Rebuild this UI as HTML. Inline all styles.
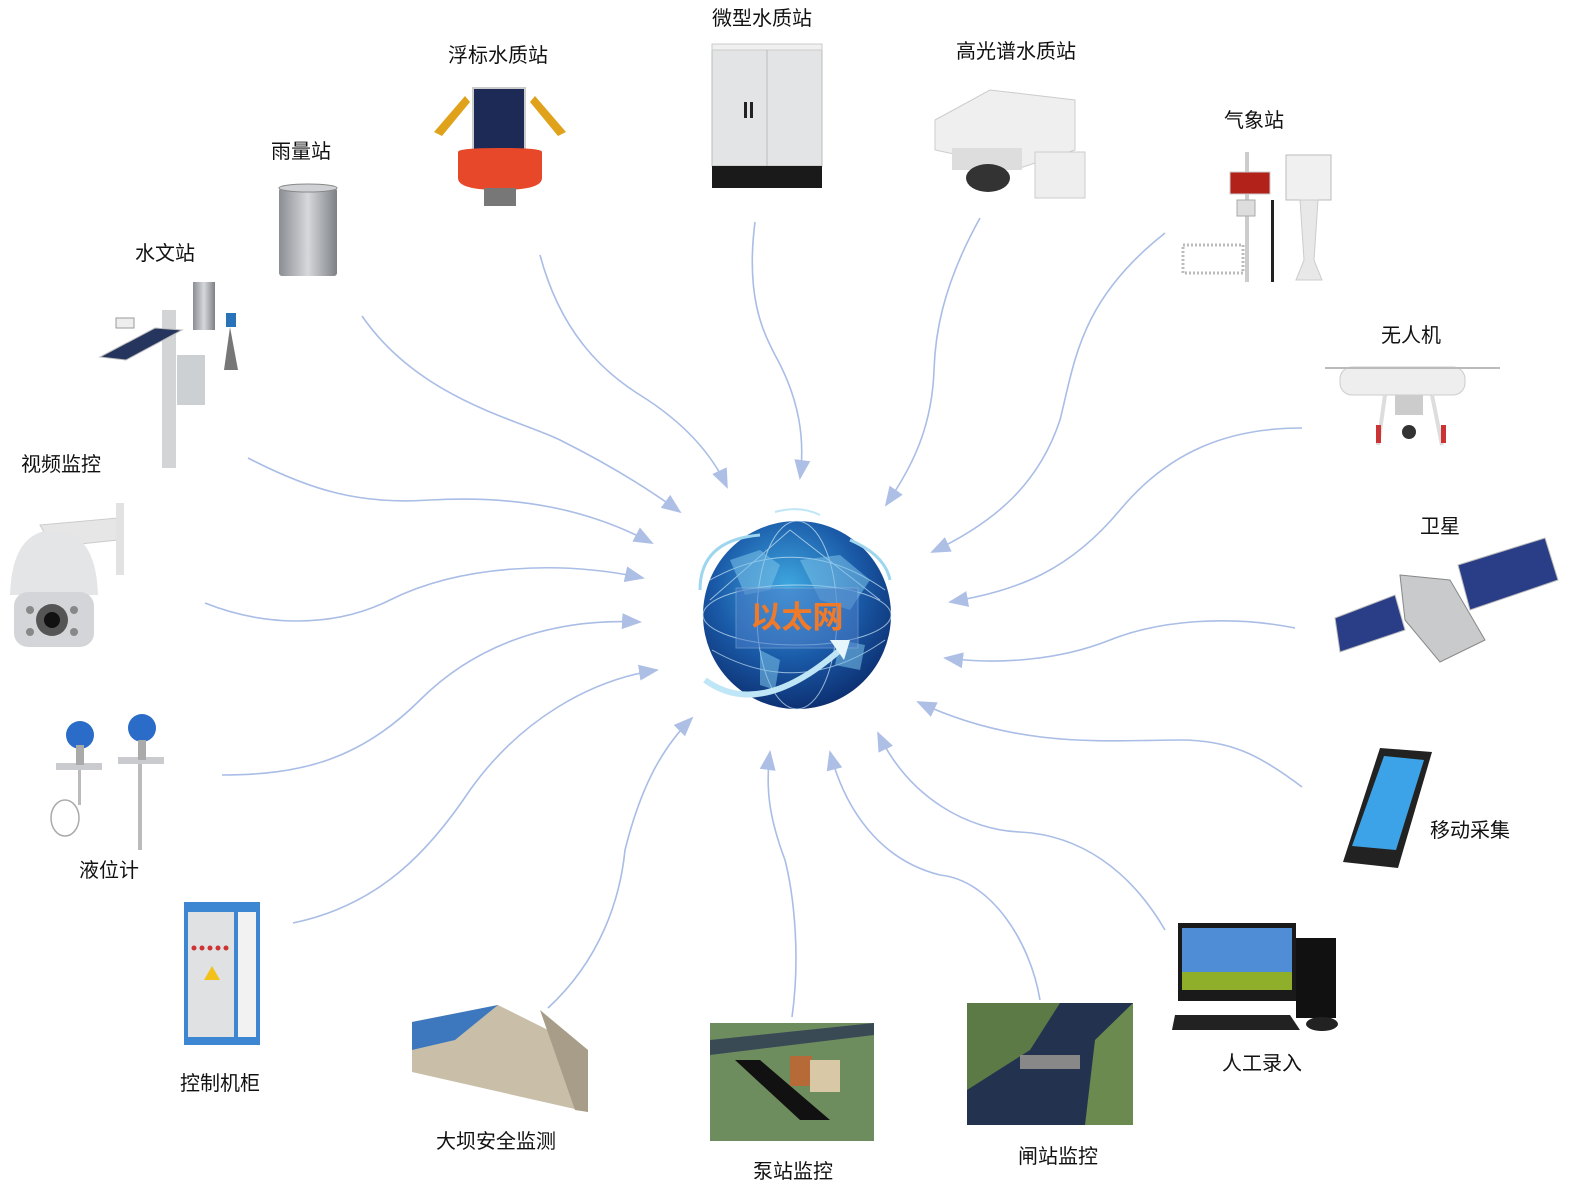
<!DOCTYPE html>
<html><head><meta charset="utf-8">
<style>
html,body{margin:0;padding:0;background:#fff;}
svg{display:block;}
text{font-family:"Liberation Sans","Noto Sans CJK SC",sans-serif;font-size:20px;fill:#111;}
</style></head>
<body>
<svg width="1572" height="1194" viewBox="0 0 1572 1194" xmlns="http://www.w3.org/2000/svg">
<defs>
<marker id="ar" viewBox="0 0 20 16" refX="18" refY="8" markerWidth="20" markerHeight="16" markerUnits="userSpaceOnUse" orient="auto">
<path d="M0,0 L20,8 L0,16 Z" fill="#aebfe6"/>
</marker>
<radialGradient id="globe" cx="0.45" cy="0.35" r="0.7">
<stop offset="0" stop-color="#3fa8e0"/><stop offset="0.55" stop-color="#1a5aa8"/><stop offset="1" stop-color="#0b2a6a"/>
</radialGradient>
<linearGradient id="metal" x1="0" x2="1"><stop offset="0" stop-color="#8a8d92"/><stop offset="0.5" stop-color="#d6d8db"/><stop offset="1" stop-color="#7d8085"/></linearGradient>
</defs>

<!-- connectors -->
<g fill="none" stroke="#a9bde6" stroke-width="1.6" marker-end="url(#ar)">
<path d="M362,316 C420,400 520,420 560,440 C610,465 650,490 680,512"/>
<path d="M540,255 C560,330 600,370 640,395 C680,420 710,450 727,487"/>
<path d="M755,222 C745,300 765,335 775,355 C800,400 805,440 800,478"/>
<path d="M980,218 C940,290 935,340 934,370 C932,430 910,470 886,505"/>
<path d="M1165,233 C1080,300 1075,360 1060,420 C1040,480 1000,520 932,552"/>
<path d="M1302,428 C1230,428 1170,450 1120,510 C1070,570 1020,590 950,602"/>
<path d="M1295,628 C1230,615 1160,620 1110,640 C1060,660 1000,665 945,658"/>
<path d="M1302,787 C1260,755 1230,740 1180,740 C1110,740 1020,750 918,702"/>
<path d="M1165,930 C1130,870 1080,835 1020,832 C970,830 910,800 878,733"/>
<path d="M1040,1000 C1030,940 990,880 940,875 C880,860 845,810 830,752"/>
<path d="M792,1017 C800,960 795,900 785,860 C770,820 765,790 770,752"/>
<path d="M548,1008 C600,960 620,900 625,850 C640,790 660,750 692,718"/>
<path d="M293,923 C380,905 430,850 470,790 C520,720 590,680 657,670"/>
<path d="M222,775 C300,775 360,760 420,700 C480,640 560,618 640,622"/>
<path d="M205,603 C260,625 330,630 390,600 C460,565 560,560 643,578"/>
<path d="M248,458 C310,490 360,505 430,500 C520,495 590,510 652,543"/>
</g>

<!-- globe -->
<g>
<ellipse cx="797" cy="615" rx="94" ry="94" fill="url(#globe)"/>
<g fill="none" stroke="#cfe8f7" stroke-width="1" opacity="0.7">
<ellipse cx="797" cy="615" rx="94" ry="30"/>
<ellipse cx="797" cy="615" rx="40" ry="94"/>
<path d="M710,580 Q800,530 885,590"/><path d="M712,650 Q800,700 885,640"/>
<path d="M790,530 L710,600 M790,530 L880,600"/>
</g>
<path d="M730,560 l30,-10 20,15 -10,25 -25,5z M800,560 l40,-5 30,25 -20,30 -30,-10z M760,650 l20,10 -5,30 -15,-5z M840,640 l25,5 -5,25 -25,-5z" fill="#7cc3ea" opacity="0.55"/>
<rect x="736" y="588" width="122" height="60" fill="#4c7fc8" opacity="0.55" stroke="#8fb0dc"/>
<text x="797" y="628" text-anchor="middle" style="font-size:31px;font-weight:bold;fill:#f07a28;">以太网</text>
<path d="M705,680 Q760,720 840,650" fill="none" stroke="#bfe6f6" stroke-width="6"/>
<path d="M830,640 l20,0 -6,20z" fill="#e6f6fc"/>
<path d="M700,590 Q700,540 760,535" fill="none" stroke="#9ed6ef" stroke-width="3"/>
<path d="M850,540 Q885,555 890,580" fill="none" stroke="#9ed6ef" stroke-width="3"/>
<path d="M775,512 Q800,505 820,515" fill="none" stroke="#bfe6f6" stroke-width="2"/>
</g>

<!-- labels -->
<text x="762" y="25" text-anchor="middle">微型水质站</text>
<text x="498" y="62" text-anchor="middle">浮标水质站</text>
<text x="1016" y="58" text-anchor="middle">高光谱水质站</text>
<text x="301" y="158" text-anchor="middle">雨量站</text>
<text x="1254" y="127" text-anchor="middle">气象站</text>
<text x="165" y="260" text-anchor="middle">水文站</text>
<text x="1411" y="342" text-anchor="middle">无人机</text>
<text x="61" y="471" text-anchor="middle">视频监控</text>
<text x="1440" y="533" text-anchor="middle">卫星</text>
<text x="1470" y="837" text-anchor="middle">移动采集</text>
<text x="109" y="877" text-anchor="middle">液位计</text>
<text x="1262" y="1070" text-anchor="middle">人工录入</text>
<text x="220" y="1090" text-anchor="middle">控制机柜</text>
<text x="496" y="1148" text-anchor="middle">大坝安全监测</text>
<text x="1058" y="1163" text-anchor="middle">闸站监控</text>
<text x="793" y="1178" text-anchor="middle">泵站监控</text>

<!-- 微型水质站 cabinet -->
<rect x="712" y="48" width="110" height="118" fill="#e3e4e6" stroke="#bbb"/>
<rect x="712" y="44" width="110" height="6" fill="#f0f0f0" stroke="#ccc"/>
<line x1="767" y1="50" x2="767" y2="166" stroke="#bbb"/>
<rect x="744" y="102" width="3" height="16" fill="#222"/><rect x="750" y="102" width="3" height="16" fill="#222"/>
<rect x="712" y="166" width="110" height="22" fill="#1a1a1a"/>

<!-- 浮标 -->
<rect x="473" y="88" width="52" height="62" fill="#1c2a55" stroke="#ccc" stroke-width="2"/>
<path d="M434,132 L465,96 L470,102 L442,136z M566,132 L535,96 L530,102 L558,136z" fill="#e0a21a"/>
<path d="M458,152 Q458,148 500,148 Q542,148 542,152 L542,178 Q542,190 500,190 Q458,190 458,178z" fill="#e8482a"/>
<rect x="484" y="188" width="32" height="18" fill="#777"/>

<!-- 高光谱 -->
<path d="M935,120 L990,90 L1075,100 L1075,150 L1020,168 L935,150z" fill="#efefef" stroke="#ccc"/>
<rect x="952" y="148" width="70" height="22" fill="#ddd"/>
<ellipse cx="988" cy="178" rx="22" ry="14" fill="#333"/>
<rect x="1035" y="152" width="50" height="46" fill="#eee" stroke="#ccc"/>

<!-- 雨量站 -->
<rect x="279" y="188" width="58" height="88" fill="url(#metal)" rx="3"/>
<ellipse cx="308" cy="188" rx="29" ry="4" fill="#cfd1d4" stroke="#888"/>

<!-- 气象站 -->
<rect x="1245" y="152" width="4" height="130" fill="#ccc"/>
<rect x="1230" y="172" width="40" height="22" fill="#b2221a" stroke="#ccc"/>
<rect x="1237" y="200" width="18" height="16" fill="#ddd" stroke="#aaa"/>
<rect x="1183" y="245" width="60" height="28" fill="none" stroke="#bbb" stroke-width="3" stroke-dasharray="2,2"/>
<rect x="1271" y="200" width="3" height="82" fill="#222"/>
<rect x="1286" y="155" width="45" height="45" fill="#f0f0f0" stroke="#bbb"/>
<path d="M1300,200 L1318,200 L1314,260 L1322,280 L1296,280 L1304,260z" fill="#e8e8e8" stroke="#ccc"/>

<!-- 水文站 -->
<rect x="162" y="310" width="14" height="158" fill="#d2d4d6"/>
<rect x="193" y="282" width="22" height="48" fill="url(#metal)"/>
<path d="M100,357 L155,328 L182,330 L126,360z" fill="#26355e" stroke="#bbb"/>
<rect x="177" y="355" width="28" height="50" fill="#cdd0d3"/>
<rect x="226" y="313" width="10" height="14" fill="#2b73b8"/>
<path d="M230,327 L238,370 L224,370z" fill="#777"/>
<rect x="116" y="318" width="18" height="10" fill="#eee" stroke="#999"/>

<!-- 视频监控 -->
<path d="M40,525 L118,518 L118,540 L70,545 L60,560z" fill="#e6e6e6" stroke="#ccc"/>
<rect x="116" y="503" width="8" height="72" fill="#e2e2e2"/>
<path d="M10,595 Q12,530 55,530 Q96,532 98,595z" fill="#e4e5e7"/>
<rect x="14" y="592" width="80" height="55" rx="14" fill="#d4d5d8"/>
<circle cx="52" cy="620" r="16" fill="#555"/><circle cx="52" cy="620" r="8" fill="#111"/>
<circle cx="30" cy="610" r="4" fill="#888"/><circle cx="74" cy="610" r="4" fill="#888"/><circle cx="30" cy="632" r="4" fill="#888"/><circle cx="74" cy="632" r="4" fill="#888"/>

<!-- 无人机 -->
<rect x="1340" y="367" width="125" height="28" rx="12" fill="#eee" stroke="#ccc"/>
<line x1="1325" y1="368" x2="1500" y2="368" stroke="#bbb" stroke-width="2"/>
<rect x="1395" y="395" width="28" height="20" fill="#ccc"/>
<circle cx="1409" cy="432" r="7" fill="#333"/>
<path d="M1385,395 L1378,445 M1432,395 L1442,445" stroke="#ddd" stroke-width="4"/>
<rect x="1376" y="425" width="5" height="18" fill="#c33"/><rect x="1441" y="425" width="5" height="18" fill="#c33"/>

<!-- 卫星 -->
<path d="M1335,618 L1395,595 L1405,630 L1340,652z" fill="#2a3e88" stroke="#bbb"/>
<path d="M1458,565 L1545,538 L1558,580 L1470,610z" fill="#2a3e88" stroke="#bbb"/>
<path d="M1400,575 L1450,580 L1485,640 L1440,662 L1405,620z" fill="#c8cacc" stroke="#888"/>

<!-- 液位计 -->
<circle cx="80" cy="735" r="14" fill="#2b6cc8"/><circle cx="142" cy="728" r="14" fill="#2b6cc8"/>
<rect x="56" y="763" width="46" height="7" fill="#c9cbce"/><rect x="118" y="757" width="46" height="7" fill="#c9cbce"/>
<rect x="76" y="745" width="8" height="20" fill="#aaa"/><rect x="138" y="740" width="8" height="20" fill="#aaa"/>
<rect x="78" y="770" width="3" height="35" fill="#bbb"/>
<ellipse cx="65" cy="818" rx="14" ry="18" fill="none" stroke="#aaa" stroke-width="1.5"/>
<rect x="138" y="764" width="4" height="86" fill="#bbb"/>

<!-- 控制机柜 -->
<rect x="184" y="902" width="76" height="143" fill="#3d86d2"/>
<rect x="188" y="912" width="46" height="125" fill="#dfe1e3"/>
<rect x="238" y="912" width="18" height="125" fill="#f2f2f2"/>
<path d="M204,980 l8,-14 8,14z" fill="#f2c21a"/>
<g fill="#c33"><circle cx="194" cy="948" r="2.5"/><circle cx="202" cy="948" r="2.5"/><circle cx="210" cy="948" r="2.5"/><circle cx="218" cy="948" r="2.5"/><circle cx="226" cy="948" r="2.5"/></g>

<!-- 大坝 -->
<path d="M412,1022 L498,1005 L588,1050 L588,1112 L412,1072z" fill="#c9bfa8"/>
<path d="M412,1022 L498,1005 L455,1040 L412,1050z" fill="#3d78bf"/>
<path d="M540,1010 L588,1050 L588,1112 L575,1110z" fill="#a79d88"/>

<!-- 泵站 -->
<rect x="710" y="1023" width="164" height="118" fill="#6e8d5f"/>
<path d="M710,1040 L874,1023 L874,1035 L710,1055z" fill="#3a4a55"/>
<path d="M735,1060 L800,1120 L830,1120 L760,1060z" fill="#111"/>
<rect x="790" y="1056" width="22" height="30" fill="#b56a38"/>
<rect x="810" y="1060" width="30" height="32" fill="#d8c8a6"/>

<!-- 闸站 -->
<rect x="967" y="1003" width="166" height="122" fill="#23334f"/>
<path d="M967,1003 L1060,1003 L1030,1050 L967,1090z" fill="#5b7a45"/>
<path d="M1095,1040 L1133,1003 L1133,1125 L1085,1125z" fill="#6b8a50"/>
<rect x="1020" y="1055" width="60" height="14" fill="#888"/>

<!-- 人工录入 -->
<rect x="1178" y="923" width="118" height="78" fill="#1a1a1a"/>
<rect x="1182" y="928" width="110" height="62" fill="#4f8ed6"/>
<rect x="1182" y="972" width="110" height="18" fill="#8fae2a"/>
<path d="M1175,1015 L1290,1015 L1300,1030 L1172,1030z" fill="#222"/>
<rect x="1296" y="938" width="40" height="80" fill="#111"/>
<ellipse cx="1322" cy="1024" rx="16" ry="7" fill="#222"/>

<!-- 移动采集 -->
<path d="M1380,748 L1432,752 L1398,868 L1343,862z" fill="#222"/>
<path d="M1384,756 L1424,760 L1396,850 L1352,846z" fill="#3da3e8"/>
</svg>
</body></html>
